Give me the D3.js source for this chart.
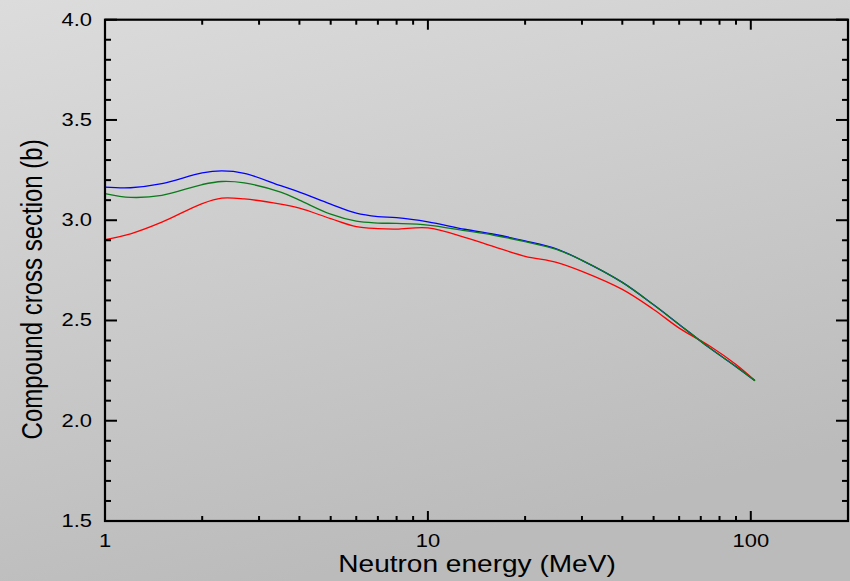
<!DOCTYPE html>
<html>
<head>
<meta charset="utf-8">
<script src="https://cdn.jsdelivr.net/npm/d3@7/dist/d3.min.js"></script>
<style>
  html, body { margin: 0; padding: 0; background: #cfcfcf; }
  svg { display: block; }
  text { font-family: "Liberation Sans", Arial, Helvetica, sans-serif; fill: #000; }
</style>
</head>
<body>
<svg id="chart" width="850" height="581"></svg>
<script>
// Neutron energies (MeV) at which the curves are sampled
const energies = [1, 1.2, 1.5, 2, 2.3, 2.7, 3.5, 4, 5, 6, 7, 8, 10, 13, 16, 20, 25, 30, 40, 50, 60, 75, 90, 103];

// Compound cross sections (b)
const sigmaBlue  = [3.165, 3.162, 3.182, 3.236, 3.246, 3.234, 3.172, 3.140, 3.080, 3.035, 3.018, 3.013, 2.992, 2.955, 2.930, 2.897, 2.857, 2.800, 2.690, 2.578, 2.480, 2.360, 2.270, 2.200];
const sigmaGreen = [3.133, 3.114, 3.124, 3.178, 3.193, 3.186, 3.140, 3.100, 3.030, 2.995, 2.986, 2.984, 2.976, 2.948, 2.925, 2.893, 2.855, 2.800, 2.690, 2.578, 2.480, 2.360, 2.270, 2.200];
const sigmaRed   = [2.903, 2.932, 2.990, 3.083, 3.110, 3.106, 3.080, 3.060, 3.008, 2.968, 2.958, 2.956, 2.962, 2.915, 2.868, 2.820, 2.790, 2.745, 2.655, 2.555, 2.462, 2.370, 2.280, 2.200];

// Axis ranges and tick labels
const xDomain = [1, 200];
const yDomain = [1.5, 4.0];
const xMajorTicks = [1, 10, 100];
const xMinorTicks = [2, 3, 4, 5, 6, 7, 8, 9, 20, 30, 40, 50, 60, 70, 80, 90];
const yMajorTicks = [1.5, 2.0, 2.5, 3.0, 3.5, 4.0];
const yMinorTicks = [1.6, 1.7, 1.8, 1.9, 2.1, 2.2, 2.3, 2.4, 2.6, 2.7, 2.8, 2.9, 3.1, 3.2, 3.3, 3.4, 3.6, 3.7, 3.8, 3.9];

const xTitle = "Neutron energy (MeV)";
const yTitle = "Compound cross section (b)";

const W = 850, H = 581;
const plot = { left: 105, right: 848, top: 19.7, bottom: 521 };
const stretch = 1.22;   // horizontal stretch applied to the lettering

const svg = d3.select("#chart");

// background shading
const defs = svg.append("defs");
const grad = defs.append("linearGradient")
  .attr("id", "bg").attr("x1", 0).attr("y1", 0).attr("x2", 0.35).attr("y2", 1);
grad.append("stop").attr("offset", "0%").attr("stop-color", "#dcdcdc");
grad.append("stop").attr("offset", "100%").attr("stop-color", "#bbbbbb");
svg.append("rect").attr("width", W).attr("height", H).attr("fill", "url(#bg)");

const x = d3.scaleLog().domain(xDomain).range([plot.left, plot.right]);
const y = d3.scaleLinear().domain(yDomain).range([plot.bottom, plot.top]);

// curves
const line = d3.line()
  .x(d => x(d[0]))
  .y(d => y(d[1]))
  .curve(d3.curveCatmullRom.alpha(0.5));

const series = [
  { values: sigmaBlue,  color: "#0000ff" },
  { values: sigmaRed,   color: "#ff0000" },
  { values: sigmaGreen, color: "#0a7a1a" }
];
series.forEach(s => {
  svg.append("path")
    .datum(energies.map((e, i) => [e, s.values[i]]))
    .attr("fill", "none")
    .attr("stroke", s.color)
    .attr("stroke-width", 1.3)
    .attr("d", line);
});

// ticks, drawn inward on all four sides
const tickG = svg.append("g").attr("stroke", "#000").attr("stroke-width", 2);
function xTicks(vals, len) {
  vals.forEach(v => {
    tickG.append("line").attr("x1", x(v)).attr("x2", x(v))
      .attr("y1", plot.bottom).attr("y2", plot.bottom - len);
    tickG.append("line").attr("x1", x(v)).attr("x2", x(v))
      .attr("y1", plot.top).attr("y2", plot.top + len);
  });
}
function yTicks(vals, len) {
  vals.forEach(v => {
    tickG.append("line").attr("y1", y(v)).attr("y2", y(v))
      .attr("x1", plot.left).attr("x2", plot.left + len);
    tickG.append("line").attr("y1", y(v)).attr("y2", y(v))
      .attr("x1", plot.right).attr("x2", plot.right - len);
  });
}
xTicks(xMajorTicks, 10);
xTicks(xMinorTicks, 5);
yTicks(yMajorTicks, 12);
yTicks(yMinorTicks, 6);

// frame
svg.append("rect")
  .attr("x", plot.left).attr("y", plot.top)
  .attr("width", plot.right - plot.left).attr("height", plot.bottom - plot.top)
  .attr("fill", "none").attr("stroke", "#000").attr("stroke-width", 2.2);

// text helper: places stretched lettering at (px, py)
function label(txt, px, py, size, anchor, rotate) {
  const g = svg.append("g")
    .attr("transform", `translate(${px},${py}) scale(${stretch},1)` + (rotate ? " rotate(-90)" : ""));
  g.append("text")
    .attr("text-anchor", anchor)
    .attr("font-size", size)
    .text(txt);
}

const fmtY = d3.format(".1f");
yMajorTicks.forEach(v => label(fmtY(v), 92, y(v) + 6, 18, "end"));
xMajorTicks.forEach(v => label(String(v), x(v), 547, 18, "middle"));

label(xTitle, (plot.left + plot.right) / 2 + 0.5, 572, 23, "middle");
label(yTitle, 42, (plot.top + plot.bottom) / 2 + 19, 24, "middle", true);
</script>
</body>
</html>
